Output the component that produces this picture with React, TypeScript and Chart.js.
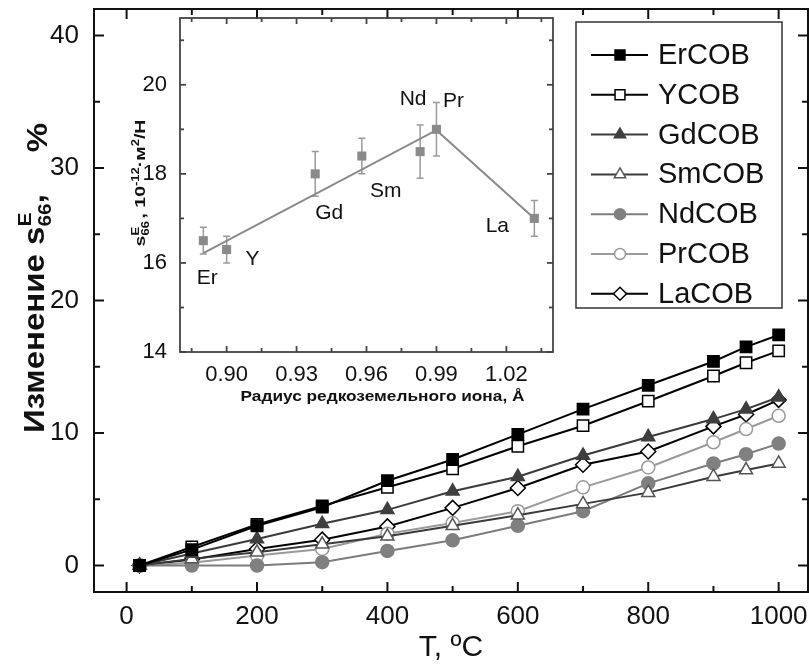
import React, { useEffect, useRef } from 'react';
import { Chart, registerables, PointElement } from 'chart.js';

Chart.register(...registerables);

const FONT = '"Liberation Sans", Arial, Helvetica, sans-serif';

// ---------------- Main chart data ----------------
const temperatures = [20, 100, 200, 300, 400, 500, 600, 700, 800, 900, 950, 1000];
const seriesNames = ['ErCOB', 'YCOB', 'GdCOB', 'SmCOB', 'NdCOB', 'PrCOB', 'LaCOB'];
const erCOB = [0, 1.2, 3.0, 4.4, 6.4, 8.0, 9.9, 11.8, 13.6, 15.4, 16.5, 17.4];
const yCOB = [0, 1.4, 3.1, 4.5, 5.9, 7.3, 9.0, 10.55, 12.4, 14.3, 15.3, 16.2];
const gdCOB = [0, 0.9, 2.0, 3.15, 4.2, 5.6, 6.7, 8.3, 9.7, 11.05, 11.8, 12.7];
const smCOB = [0, 0.5, 1.0, 1.6, 2.2, 3.0, 3.8, 4.65, 5.5, 6.7, 7.2, 7.7];
const ndCOB = [0, 0.0, 0.0, 0.25, 1.1, 1.9, 3.0, 4.1, 6.2, 7.7, 8.4, 9.2];
const prCOB = [0, 0.2, 0.75, 1.25, 2.4, 3.2, 4.1, 5.9, 7.4, 9.3, 10.3, 11.3];
const laCOB = [0, 0.45, 1.25, 1.95, 2.95, 4.35, 5.85, 7.6, 8.6, 10.5, 11.4, 12.5];
const seriesValues = [erCOB, yCOB, gdCOB, smCOB, ndCOB, prCOB, laCOB];

const xTickValues = [0, 200, 400, 600, 800, 1000];
const xMinorTickValues = [100, 300, 500, 700, 900];
const yTickValues = [0, 10, 20, 30, 40];
const yMinorTickValues = [5, 15, 25, 35];

// ---------------- Inset data ----------------
const ionLabels = ['Er', 'Y', 'Gd', 'Sm', 'Nd', 'Pr', 'La'];
const ionRadius = [0.89, 0.9, 0.938, 0.958, 0.983, 0.99, 1.032];
const s66Values = [16.5, 16.3, 18.0, 18.4, 18.5, 19.0, 17.0];
const s66Errors = [0.3, 0.3, 0.5, 0.4, 0.6, 0.6, 0.4];
const fitRadius = [0.89, 0.99, 1.032];
const fitValues = [16.22, 18.98, 17.0];
const insetXTickValues = [0.9, 0.93, 0.96, 0.99, 1.02];
const insetXMinorTickValues = [0.885, 0.915, 0.945, 0.975, 1.005, 1.035];
const insetYTickValues = [14, 16, 18, 20];
const insetYMinorTickValues = [15, 17, 19, 21];

// ---------------- Styles ----------------
const seriesStyles = [
  { line: '#000000', fill: '#000000', stroke: '#000000', shape: 'rect', r: 8 },
  { line: '#000000', fill: '#ffffff', stroke: '#000000', shape: 'rect', r: 8 },
  { line: '#3a3a3a', fill: '#3f3f3f', stroke: '#3f3f3f', shape: 'triangle', r: 7.5 },
  { line: '#3a3a3a', fill: '#ffffff', stroke: '#555555', shape: 'triangle', r: 7.5 },
  { line: '#7c7c7c', fill: '#808080', stroke: '#808080', shape: 'circle', r: 6.5 },
  { line: '#9a9a9a', fill: '#ffffff', stroke: '#9a9a9a', shape: 'circle', r: 6.5 },
  { line: '#000000', fill: '#ffffff', stroke: '#000000', shape: 'rectRot', r: 7.5 },
];
// pixel offsets of the inset element labels relative to their points
const ionLabelOffsets = [[4, 38], [26, 10], [14, 39], [24, 35], [-7, -52], [17, -28], [-37, 8]];

type RichPart = { text?: string; sup?: string; sub?: string; gap?: number; dy?: number };
type RichOpts = { size: number; small: number; bold?: boolean; rotate?: boolean; color: string; stretch?: number };

function drawRich(ctx: CanvasRenderingContext2D, parts: RichPart[], cx: number, cy: number, o: RichOpts) {
  const base = `${o.bold ? 'bold ' : ''}${o.size}px ${FONT}`;
  const small = `${o.bold ? 'bold ' : ''}${o.small}px ${FONT}`;
  ctx.save();
  ctx.translate(cx, cy);
  if (o.rotate) ctx.rotate(-Math.PI / 2);
  ctx.scale(o.stretch ?? 1, 1);
  const metrics = parts.map((p) => {
    ctx.font = base;
    const wb = p.text ? ctx.measureText(p.text).width : 0;
    ctx.font = small;
    const ws = Math.max(p.sup ? ctx.measureText(p.sup).width : 0, p.sub ? ctx.measureText(p.sub).width : 0);
    return { wb, ws };
  });
  const total = metrics.reduce((s, m, i) => s + m.wb + m.ws + (parts[i].gap ?? 0), 0);
  let x = -total / 2;
  const baseY = o.size * 0.36;
  ctx.fillStyle = o.color;
  ctx.textAlign = 'left';
  ctx.textBaseline = 'alphabetic';
  parts.forEach((p, i) => {
    x += p.gap ?? 0;
    const dy = p.dy ?? 0;
    if (p.text) {
      ctx.font = base;
      ctx.fillText(p.text, x, baseY + dy);
      x += metrics[i].wb;
    }
    ctx.font = small;
    if (p.sup) ctx.fillText(p.sup, x, baseY - o.size * 0.42);
    if (p.sub) ctx.fillText(p.sub, x, baseY + o.size * 0.24);
    x += metrics[i].ws;
  });
  ctx.restore();
}

function zeroPadding(s: any) {
  s.paddingTop = 0;
  s.paddingBottom = 0;
  s.paddingLeft = 0;
  s.paddingRight = 0;
}

function makeFramePlugin() {
  return {
    id: 'frame',
    afterDraw(chart: any, _args: any, opts: any) {
      const { ctx, chartArea: a, scales } = chart;
      const sx = scales.x;
      const sy = scales.y;
      ctx.save();
      ctx.strokeStyle = opts.color;
      ctx.lineWidth = opts.width;
      ctx.lineCap = 'butt';
      const line = (x1: number, y1: number, x2: number, y2: number) => {
        ctx.beginPath();
        ctx.moveTo(x1, y1);
        ctx.lineTo(x2, y2);
        ctx.stroke();
      };
      const drawX = (vals: number[], len: number) => {
        vals.forEach((v) => {
          const p = sx.getPixelForValue(v);
          line(p, a.bottom, p, a.bottom - len);
          line(p, a.top, p, a.top + len);
        });
      };
      const drawY = (vals: number[], len: number) => {
        vals.forEach((v) => {
          const p = sy.getPixelForValue(v);
          line(a.left, p, a.left + len, p);
          line(a.right, p, a.right - len, p);
        });
      };
      drawX(opts.xMajor, opts.major);
      drawX(opts.xMinor, opts.minor);
      drawY(opts.yMajor, opts.major);
      drawY(opts.yMinor, opts.minor);
      ctx.strokeRect(a.left, a.top, a.right - a.left, a.bottom - a.top);
      ctx.restore();
    },
  };
}

const mainDecorPlugin = {
  id: 'mainDecor',
  afterDraw(chart: any) {
    const { ctx, chartArea: a } = chart;
    // legend
    const left = a.right - 232;
    const top = a.top + 13;
    const w = 206;
    const h = 286;
    ctx.save();
    ctx.fillStyle = '#ffffff';
    ctx.fillRect(left, top, w, h);
    ctx.strokeStyle = '#333333';
    ctx.lineWidth = 1.5;
    ctx.strokeRect(left, top, w, h);
    seriesNames.forEach((name, i) => {
      const st = seriesStyles[i];
      const y = top + 33 + i * 39.8;
      ctx.strokeStyle = st.line;
      ctx.lineWidth = 2;
      ctx.beginPath();
      ctx.moveTo(left + 15, y);
      ctx.lineTo(left + 72, y);
      ctx.stroke();
      const pt: any = new PointElement({
        x: left + 44,
        y,
        options: {
          pointStyle: st.shape,
          radius: st.r - 1,
          rotation: 0,
          borderWidth: 1.5,
          borderColor: st.stroke,
          backgroundColor: st.fill,
        },
      } as any);
      pt.draw(ctx, a);
      ctx.fillStyle = '#111111';
      ctx.font = `29px ${FONT}`;
      ctx.textAlign = 'left';
      ctx.textBaseline = 'middle';
      ctx.fillText(name, left + 82, y + 1);
    });
    ctx.restore();
    // axis titles
    drawRich(ctx, [{ text: 'T, ºC' }], (a.left + a.right) / 2, 645, { size: 30, small: 20, color: '#111111' });
    drawRich(
      ctx,
      [{ text: 'Изменение s', sup: 'E', sub: '66' }, { text: ',' }, { text: '%', gap: 38, dy: 3 }],
      33,
      278,
      { size: 30, small: 19, bold: true, rotate: true, color: '#111111', stretch: 1.1 }
    );
  },
};

const insetDecorPlugin = {
  id: 'insetDecor',
  beforeDatasetsDraw(chart: any) {
    const { ctx, scales } = chart;
    ctx.save();
    ctx.strokeStyle = '#9a9a9a';
    ctx.lineWidth = 1.5;
    ionRadius.forEach((r, i) => {
      const x = scales.x.getPixelForValue(r);
      const y1 = scales.y.getPixelForValue(s66Values[i] - s66Errors[i]);
      const y2 = scales.y.getPixelForValue(s66Values[i] + s66Errors[i]);
      ctx.beginPath();
      ctx.moveTo(x, y1);
      ctx.lineTo(x, y2);
      ctx.moveTo(x - 3.5, y1);
      ctx.lineTo(x + 3.5, y1);
      ctx.moveTo(x - 3.5, y2);
      ctx.lineTo(x + 3.5, y2);
      ctx.stroke();
    });
    ctx.restore();
  },
  afterDraw(chart: any) {
    const { ctx, scales, chartArea: a } = chart;
    ctx.save();
    ctx.fillStyle = '#111111';
    ctx.font = `21px ${FONT}`;
    ctx.textAlign = 'center';
    ctx.textBaseline = 'middle';
    ionLabels.forEach((lab, i) => {
      const x = scales.x.getPixelForValue(ionRadius[i]) + ionLabelOffsets[i][0];
      const y = scales.y.getPixelForValue(s66Values[i]) + ionLabelOffsets[i][1];
      ctx.fillText(lab, x, y);
    });
    ctx.restore();
    drawRich(ctx, [{ text: 'Радиус редкоземельного иона, Å' }], (a.left + a.right) / 2 + 16, 396, {
      size: 15,
      small: 10,
      bold: true,
      color: '#111111',
      stretch: 1.15,
    });
    drawRich(
      ctx,
      [{ text: 's', sup: 'E', sub: '66' }, { text: ', 10', sup: '-12', gap: 2 }, { text: '·м', sup: '2' }, { text: '/Н' }],
      10,
      (a.top + a.bottom) / 2 - 2,
      { size: 15, small: 10, bold: true, rotate: true, color: '#111111', stretch: 1.3 }
    );
  },
};

export default function App() {
  const mainRef = useRef<HTMLCanvasElement>(null);
  const insetRef = useRef<HTMLCanvasElement>(null);

  useEffect(() => {
    document.body.style.margin = '0';
    const mainCanvas = mainRef.current!;
    const insetCanvas = insetRef.current!;

    const main = new Chart(mainCanvas, {
      type: 'line',
      data: {
        datasets: seriesNames.map((name, i) => {
          const st = seriesStyles[i];
          return {
            label: name,
            data: temperatures.map((t, j) => ({ x: t, y: seriesValues[i][j] })),
            borderColor: st.line,
            borderWidth: 2,
            pointStyle: st.shape as any,
            pointRadius: st.r,
            pointHoverRadius: st.r,
            pointBackgroundColor: st.fill,
            pointBorderColor: st.stroke,
            pointBorderWidth: 1.5,
            tension: 0,
            fill: false,
          };
        }),
      },
      options: {
        animation: false,
        responsive: false,
        devicePixelRatio: 1,
        layout: { autoPadding: false, padding: { left: 0, top: 9, right: 1, bottom: 0 } },
        plugins: {
          legend: { display: false },
          tooltip: { enabled: false },
          frame: {
            color: '#111111',
            width: 2,
            major: 10,
            minor: 6,
            xMajor: xTickValues,
            xMinor: xMinorTickValues,
            yMajor: yTickValues,
            yMinor: yMinorTickValues,
          },
        } as any,
        scales: {
          x: {
            type: 'linear',
            min: -50,
            max: 1045,
            afterBuildTicks: (s: any) => {
              s.ticks = xTickValues.map((v) => ({ value: v }));
            },
            afterFit: (s: any) => {
              s.height = 74;
              zeroPadding(s);
            },
            grid: { display: false },
            border: { display: false },
            ticks: {
              font: { family: FONT, size: 26 },
              color: '#111111',
              padding: 1,
              maxRotation: 0,
              autoSkip: false,
              callback: (v: any) => String(v),
            },
          },
          y: {
            type: 'linear',
            min: -2,
            max: 42,
            afterBuildTicks: (s: any) => {
              s.ticks = yTickValues.map((v) => ({ value: v }));
            },
            afterFit: (s: any) => {
              s.width = 94;
              zeroPadding(s);
            },
            grid: { display: false },
            border: { display: false },
            ticks: {
              font: { family: FONT, size: 26 },
              color: '#111111',
              padding: 7,
              autoSkip: false,
              callback: (v: any) => String(v),
            },
          },
        },
      },
      plugins: [makeFramePlugin(), mainDecorPlugin],
    });

    const inset = new Chart(insetCanvas, {
      type: 'line',
      data: {
        datasets: [
          {
            label: 'fit',
            data: fitRadius.map((x, i) => ({ x, y: fitValues[i] })),
            borderColor: '#8a8a8a',
            borderWidth: 2,
            pointRadius: 0,
            order: 2,
          },
          {
            label: 's66',
            data: ionRadius.map((x, i) => ({ x, y: s66Values[i] })),
            showLine: false,
            pointStyle: 'rect',
            pointRadius: 6.4,
            pointBackgroundColor: '#8a8a8a',
            pointBorderColor: '#8a8a8a',
            pointBorderWidth: 0,
            order: 1,
          },
        ],
      },
      options: {
        animation: false,
        responsive: false,
        devicePixelRatio: 1,
        layout: { autoPadding: false, padding: { left: 0, top: 18, right: 17, bottom: 0 } },
        plugins: {
          legend: { display: false },
          tooltip: { enabled: false },
          frame: {
            color: '#444444',
            width: 1.8,
            major: 6,
            minor: 4,
            xMajor: insetXTickValues,
            xMinor: insetXMinorTickValues,
            yMajor: insetYTickValues,
            yMinor: insetYMinorTickValues,
          },
        } as any,
        scales: {
          x: {
            type: 'linear',
            min: 0.88,
            max: 1.04,
            afterBuildTicks: (s: any) => {
              s.ticks = insetXTickValues.map((v) => ({ value: v }));
            },
            afterFit: (s: any) => {
              s.height = 58;
              zeroPadding(s);
            },
            grid: { display: false },
            border: { display: false },
            ticks: {
              font: { family: FONT, size: 22 },
              color: '#111111',
              padding: 2,
              maxRotation: 0,
              autoSkip: false,
              callback: (v: any) => Number(v).toFixed(2),
            },
          },
          y: {
            type: 'linear',
            min: 14,
            max: 21.5,
            afterBuildTicks: (s: any) => {
              s.ticks = insetYTickValues.map((v) => ({ value: v }));
            },
            afterFit: (s: any) => {
              s.width = 50;
              zeroPadding(s);
            },
            grid: { display: false },
            border: { display: false },
            ticks: {
              font: { family: FONT, size: 22 },
              color: '#111111',
              padding: 5,
              autoSkip: false,
              callback: (v: any) => String(v),
            },
          },
        },
      },
      plugins: [makeFramePlugin(), insetDecorPlugin],
    });

    return () => {
      main.destroy();
      inset.destroy();
    };
  }, []);

  return (
    <div style={{ position: 'relative', width: 809, height: 666, background: '#ffffff', overflow: 'hidden' }}>
      <canvas
        ref={mainRef}
        width={809}
        height={666}
        style={{ position: 'absolute', left: 0, top: 0, width: 809, height: 666 }}
      />
      <canvas
        ref={insetRef}
        width={440}
        height={410}
        style={{ position: 'absolute', left: 130, top: 0, width: 440, height: 410 }}
      />
    </div>
  );
}
